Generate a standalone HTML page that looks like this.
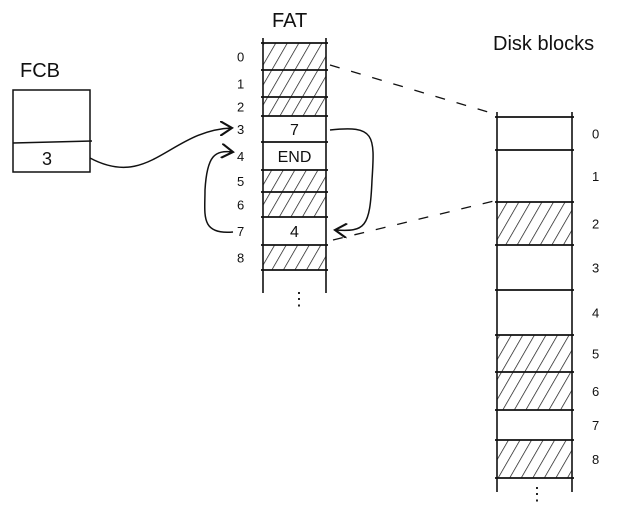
<!DOCTYPE html>
<html><head><meta charset="utf-8"><style>
body{margin:0;background:#fff}
svg{display:block}
text{font-family:"Liberation Sans",sans-serif;fill:#111}
</style></head><body>
<svg width="635" height="523" viewBox="0 0 635 523">
<defs>
<pattern id="hatch" patternUnits="userSpaceOnUse" width="10" height="10" patternTransform="rotate(30)">
<line x1="0" y1="0" x2="0" y2="10" stroke="#111" stroke-width="1.4"/>
</pattern>
<marker id="ah" markerWidth="10" markerHeight="10" refX="8" refY="5" orient="auto"><path d="M0,0 L8,5 L0,10" fill="none" stroke="#111" stroke-width="1.4"/></marker>
</defs>
<g id="fcb">
<text x="20" y="77" font-size="20">FCB</text>
<rect x="13" y="90" width="77" height="82" fill="none" stroke="#111" stroke-width="1.5"/>
<line x1="13" y1="143" x2="92" y2="141" stroke="#111" stroke-width="1.5"/>
<text x="42" y="165" font-size="18">3</text>
</g>
<g id="fat"></g>
<g id="disk"></g>
<text x="272" y="27" font-size="20">FAT</text>
<text x="493" y="50" font-size="20">Disk blocks</text>
<path d="M90,158 C150,190 170,130 232,128" fill="none" stroke="#111" stroke-width="1.5" marker-end="url(#ah)"/>
<path d="M330,130 C375,125 375,135 372,180 C370,228 365,232 335,230" fill="none" stroke="#111" stroke-width="1.5" marker-end="url(#ah)"/>
<path d="M233,232 C200,235 205,215 205,190 C207,155 215,150 233,152" fill="none" stroke="#111" stroke-width="1.5" marker-end="url(#ah)"/>
<line x1="330" y1="65" x2="498" y2="115" stroke="#111" stroke-width="1.3" stroke-dasharray="10,12"/>
<line x1="333" y1="240" x2="498" y2="200" stroke="#111" stroke-width="1.3" stroke-dasharray="10,12"/>
<text x="290" y="305" font-size="18">⋮</text>
<text x="528" y="500" font-size="18">⋮</text>
</svg>
<script>
const fatLines=[43,70,97,116,142,170,192,217,245,270];
const fatHatched=[true,true,true,false,false,true,true,false,true];
const fatValues=["","","","7","END","","","4",""];
const diskLines=[117,150,202,245,290,335,372,410,440,478];
const diskHatched=[false,false,true,false,false,true,true,false,true];
const NS="http://www.w3.org/2000/svg";
function mk(tag,attrs,parent){const e=document.createElementNS(NS,tag);for(const k in attrs)e.setAttribute(k,attrs[k]);parent.appendChild(e);return e;}
function drawCol(g,lines,hatched,values,x0,x1,bottom,labelX,name){
  for(let i=0;i<hatched.length;i++){
    const y0=lines[i],y1=lines[i+1];
    if(hatched[i]){const r=mk('rect',{x:x0,y:y0,width:x1-x0,height:y1-y0,fill:'url(#hatch)'},g);
      
      }
    const t=mk('text',{x:labelX,y:(y0+y1)/2+5,'font-size':13},g);t.textContent=i;
    
    
    if(values&&values[i]){const v=mk('text',{x:(x0+x1)/2,y:(y0+y1)/2+6,'font-size':16,'text-anchor':'middle'},g);v.textContent=values[i];
      
      }
  }
  lines.forEach(y=>mk('line',{x1:x0-2,y1:y,x2:x1+2,y2:y,stroke:'#111','stroke-width':1.8},g));
  mk('line',{x1:x0,y1:lines[0]-5,x2:x0,y2:bottom,stroke:'#111','stroke-width':1.6},g);
  mk('line',{x1:x1,y1:lines[0]-5,x2:x1,y2:bottom,stroke:'#111','stroke-width':1.6},g);
}
drawCol(document.getElementById('fat'),fatLines,fatHatched,fatValues,263,326,293,237,'fat');
drawCol(document.getElementById('disk'),diskLines,diskHatched,null,497,572,492,592,'disk');
</script>
</body></html>
